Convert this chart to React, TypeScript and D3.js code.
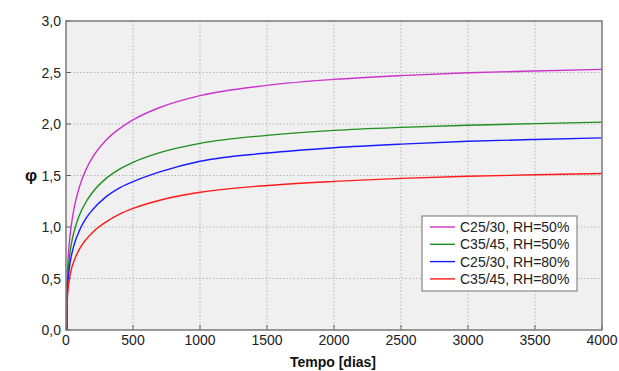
import React from "react";
import * as d3 from "d3";

const days = [7, 8, 10, 15, 25, 40, 60, 100, 150, 200, 300, 400, 500, 700, 1000, 1500, 2000, 2500, 3000, 3500, 4000];
const c2530rh50 = [0, 0.36, 0.5, 0.67, 0.85, 1.02, 1.18, 1.39, 1.56, 1.68, 1.845, 1.955, 2.04, 2.16, 2.275, 2.375, 2.433, 2.47, 2.497, 2.515, 2.53];
const c3545rh50 = [0, 0.3, 0.41, 0.55, 0.7, 0.835, 0.955, 1.115, 1.245, 1.34, 1.472, 1.562, 1.628, 1.722, 1.812, 1.89, 1.938, 1.967, 1.988, 2.004, 2.018];
const c2530rh80 = [0, 0.26, 0.355, 0.475, 0.605, 0.72, 0.825, 0.965, 1.085, 1.17, 1.295, 1.38, 1.44, 1.535, 1.638, 1.718, 1.77, 1.805, 1.832, 1.85, 1.865];
const c3545rh80 = [0, 0.21, 0.29, 0.39, 0.49, 0.59, 0.67, 0.785, 0.88, 0.95, 1.05, 1.125, 1.18, 1.26, 1.337, 1.403, 1.443, 1.472, 1.492, 1.507, 1.52];

const seriesNames = ["C25/30, RH=50%", "C35/45, RH=50%", "C25/30, RH=80%", "C35/45, RH=80%"];
const seriesValues = [c2530rh50, c3545rh50, c2530rh80, c3545rh80];
const seriesColors = ["#cc33cc", "#1f8f1f", "#1a1aff", "#ff1a1a"];

const xTicks = [0, 500, 1000, 1500, 2000, 2500, 3000, 3500, 4000];
const yTicks = [0, 0.5, 1.0, 1.5, 2.0, 2.5, 3.0];

const W = 619;
const H = 371;
const L = 66;
const R = 602;
const T = 21;
const B = 330;

export default function App() {
  const x = d3.scaleLinear().domain([0, 4000]).range([L, R]);
  const y = d3.scaleLinear().domain([0, 3]).range([B, T]);
  const line = d3
    .line<[number, number]>()
    .x((d) => x(d[0]))
    .y((d) => y(d[1]))
    .curve(d3.curveMonotoneX);
  const fmtY = (v: number) => v.toFixed(1).replace(".", ",");
  const font = "'Liberation Sans', Arial, sans-serif";

  return (
    <svg width={W} height={H} style={{ position: "absolute", left: 0, top: 0, background: "#fff" }} fontFamily={font}>
      <rect x={L} y={T} width={R - L} height={B - T} fill="#f0f0f0" />
      {xTicks.slice(1, -1).map((t) => (
        <line key={"gx" + t} x1={x(t)} x2={x(t)} y1={T} y2={B} stroke="#b4b4b4" strokeWidth={1} strokeDasharray="1.5,2" />
      ))}
      {yTicks.slice(1, -1).map((t) => (
        <line key={"gy" + t} x1={L} x2={R} y1={y(t)} y2={y(t)} stroke="#b4b4b4" strokeWidth={1} strokeDasharray="1.5,2" />
      ))}
      {xTicks.map((t) => (
        <line key={"tx" + t} x1={x(t)} x2={x(t)} y1={B} y2={B - 5} stroke="#606060" strokeWidth={1} />
      ))}
      {yTicks.map((t) => (
        <line key={"ty" + t} x1={L} x2={L + 5} y1={y(t)} y2={y(t)} stroke="#606060" strokeWidth={1} />
      ))}
      <defs>
        <clipPath id="plotclip">
          <rect x={L} y={T} width={R - L} height={B - T} />
        </clipPath>
      </defs>
      <g clipPath="url(#plotclip)">
        {seriesValues.map((vals, i) => (
          <path
            key={seriesNames[i]}
            d={line(days.map((d, j) => [d, vals[j]] as [number, number])) || ""}
            fill="none"
            stroke={seriesColors[i]}
            strokeWidth={1.4}
          />
        ))}
      </g>
      <rect x={L} y={T} width={R - L} height={B - T} fill="none" stroke="#7a7a7a" strokeWidth={1.5} />
      {xTicks.map((t) => (
        <text key={"lx" + t} x={x(t)} y={344.5} fontSize={14} textAnchor="middle" fill="#222">
          {t}
        </text>
      ))}
      {yTicks.map((t) => (
        <text key={"ly" + t} x={61} y={y(t) + 5} fontSize={14} textAnchor="end" fill="#222">
          {fmtY(t)}
        </text>
      ))}
      <text x={333} y={367} fontSize={14} fontWeight="bold" textAnchor="middle" fill="#111">
        Tempo [dias]
      </text>
      <text x={31} y={181} fontSize={17} fontWeight="bold" textAnchor="middle" fill="#111">
        φ
      </text>
      <rect x={422} y={216} width={155} height={75} fill="#ffffff" stroke="#707070" strokeWidth={1} />
      {seriesNames.map((n, i) => (
        <g key={"lg" + n}>
          <line x1={430} x2={455} y1={227 + i * 17.3} y2={227 + i * 17.3} stroke={seriesColors[i]} strokeWidth={1.4} />
          <text x={460} y={227 + i * 17.3 + 5} fontSize={14} fill="#222">
            {n}
          </text>
        </g>
      ))}
    </svg>
  );
}
